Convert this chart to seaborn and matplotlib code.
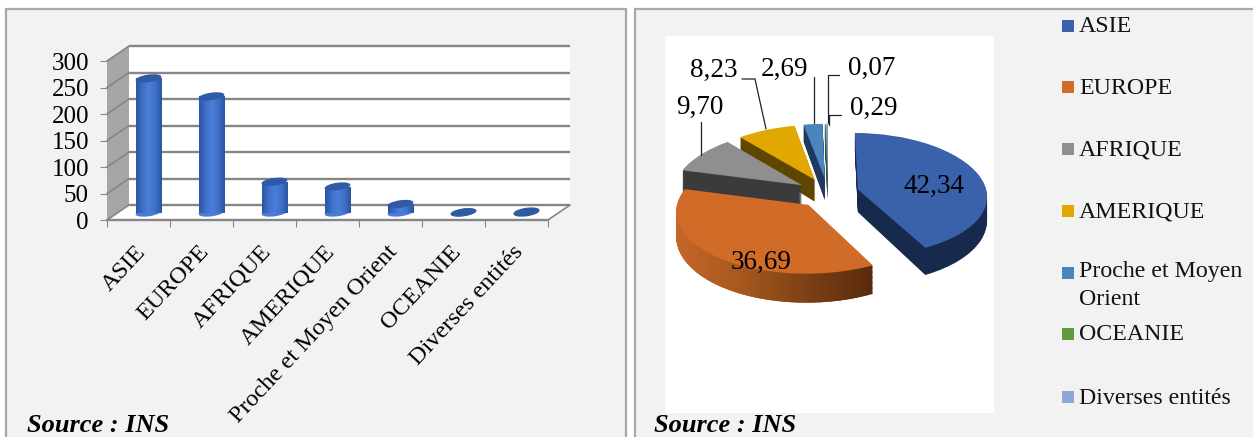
import matplotlib
matplotlib.use("Agg")
import numpy as np
import matplotlib.pyplot as plt
import seaborn as sns
from matplotlib.patches import Ellipse, Rectangle, Polygon, PathPatch
from matplotlib.path import Path
from matplotlib.transforms import Affine2D, ScaledTranslation
from matplotlib.colors import LinearSegmentedColormap

categories = ["ASIE", "EUROPE", "AFRIQUE", "AMERIQUE", "Proche et Moyen Orient", "OCEANIE", "Diverses entités"]
counts = [253, 219, 58, 49, 16, 0.4, 1.7]
shares = [42.34, 36.69, 9.70, 8.23, 2.69, 0.07, 0.29]
share_labels = ["42,34", "36,69", "9,70", "8,23", "2,69", "0,07", "0,29"]
legend_labels = ["ASIE", "EUROPE", "AFRIQUE", "AMERIQUE", "Proche et Moyen\nOrient", "OCEANIE", "Diverses entités"]
y_ticks = [0, 50, 100, 150, 200, 250, 300]
pie_colors = ["#3a62ab", "#d06b28", "#8f8f8f", "#e0a800", "#4a86bd", "#5f9a3f", "#8fa6d8"]
side_colors = ["#17294d", "#8a4a1c", "#3b3b3b", "#5f4600", "#1f3a5c", "#2f4d20", "#4a5a80"]
source_text = "Source : INS"

sns.set_theme(style="white")
plt.rcParams["font.family"] = ["Liberation Serif", "DejaVu Serif"]

W, H = 1253, 437
fig = plt.figure(figsize=(W / 100, H / 100), dpi=100, facecolor="white")


def pixel_axes(zorder):
    a = fig.add_axes([0, 0, 1, 1], zorder=zorder)
    a.set_xlim(0, W)
    a.set_ylim(H, 0)
    a.axis("off")
    a.patch.set_alpha(0)
    return a


def box(x0, y0, x1, y1):
    return [x0 / W, 1 - y1 / H, (x1 - x0) / W, (y1 - y0) / H]


bg = pixel_axes(0)
fg = pixel_axes(5)
panel_edge = "#a8a8a8"
for x0, x1 in [(6, 626), (635, 1262)]:
    bg.add_patch(Rectangle((x0, 9), x1 - x0, 440, facecolor="#f2f2f2", edgecolor=panel_edge, lw=1.6))
bg.add_patch(Rectangle((665, 36), 329, 377, facecolor="white", edgecolor="none"))

# ---------- left: pseudo-3D cylinder bars ----------
ax = fig.add_axes(box(107, 61, 548, 220), zorder=2)
ax.patch.set_alpha(0)
sns.barplot(x=categories, y=counts, ax=ax, width=0.41, color="#3f70c8", saturation=1)
ax.set_xlim(-0.5, 6.5)
ax.set_ylim(0, 300)
sns.despine(ax=ax, left=True, bottom=True, top=True, right=True)

back = ax.transData + Affine2D().translate(22, 15)
mid = ax.transData + Affine2D().translate(10, 7.5)
wall_grey = "#858585"

ax.add_patch(Rectangle((-0.5, 0), 7, 300, transform=back, facecolor="white", edgecolor="none", clip_on=False, zorder=0))
px = lambda x, y, t: t.transform((x, y))
identity = Affine2D()
ax.add_patch(Polygon([px(-0.5, 0, ax.transData), px(-0.5, 300, ax.transData), px(-0.5, 300, back), px(-0.5, 0, back)],
                     closed=True, transform=identity, facecolor="#a6a6a6", edgecolor="none", clip_on=False, zorder=0.1))
ax.add_patch(Polygon([px(-0.5, 0, ax.transData), px(-0.5, 0, back), px(6.5, 0, back), px(6.5, 0, ax.transData)],
                     closed=True, transform=identity, facecolor="white", edgecolor="none", clip_on=False, zorder=0.1))
for t in y_ticks:
    ax.plot([-0.5, 6.5], [t, t], transform=back, color=wall_grey, lw=1.7, clip_on=False, zorder=0.2, solid_capstyle="butt")
    a, b = px(-0.5, t, ax.transData), px(-0.5, t, back)
    ax.plot([a[0], b[0]], [a[1], b[1]], transform=identity, color=wall_grey, lw=1.2, clip_on=False, zorder=0.2)
a, b = px(6.5, 0, ax.transData), px(6.5, 0, back)
ax.plot([a[0], b[0]], [a[1], b[1]], transform=identity, color=wall_grey, lw=1.2, clip_on=False, zorder=0.2)
ax.plot([-0.5, 6.5], [0, 0], color=wall_grey, lw=1.7, clip_on=False, zorder=0.2)

cyl = LinearSegmentedColormap.from_list("cyl", ["#2a55a3", "#3f70c8", "#4a7fd8", "#3f70c8", "#2a55a3"])
grad = np.linspace(0, 1, 64).reshape(1, -1)
for bar in list(ax.patches):
    if not isinstance(bar, Rectangle) or bar.get_zorder() < 0.5:
        continue
    x0, w, v = bar.get_x(), bar.get_width(), bar.get_height()
    bar.set_visible(False)
    cx = x0 + w / 2

    def ell(val, color, z):
        tr = Affine2D().scale(13, 3.8).rotate_deg(8) + ScaledTranslation(cx, val, mid)
        ax.add_patch(Ellipse((0, 0), 2, 2, transform=tr, facecolor=color, edgecolor="none", clip_on=False, zorder=z))

    ell(0, "#4a7cd6" if v > 5 else "#2f5aa6", 2)
    if v > 5:
        im = ax.imshow(grad, extent=[x0, x0 + w, 0, v], aspect="auto", cmap=cyl, transform=mid, zorder=2.1)
        im.set_clip_on(False)
    ell(v, "#2f5aa6", 2.2)

ax.set_xlim(-0.5, 6.5)
ax.set_ylim(0, 300)
ax.set_yticks(y_ticks)
ax.set_yticklabels([str(t) for t in y_ticks], fontsize=18, color="black")
ax.tick_params(axis="y", left=True, length=5, width=0.8, color="#888888", pad=8)
ax.set_xticks(range(len(categories)))
ax.set_xticklabels(categories, rotation=47, ha="right", rotation_mode="anchor", fontsize=17.5, color="black")
ax.tick_params(axis="x", which="major", bottom=False, pad=10)
for lab in ax.get_xticklabels():
    lab.set_transform(lab.get_transform() + Affine2D().translate(-4, 1))
ax.set_xticks(np.arange(-0.5, 7, 1), minor=True)
ax.tick_params(axis="x", which="minor", bottom=True, length=5, width=0.8, color="#888888")
ax.set_xlabel("")
ax.set_ylabel("")

# ---------- right: pseudo-3D exploded pie ----------
pax = fig.add_axes(box(665, 36, 994, 413), zorder=3)
RX, RY, CX, CY = 129, 62, 828, 193
explode = [0.24] * len(shares)
depth = 23


def project(path, lift=0.0):
    """Perspective of the tilted pie: the far side shrinks, the near side grows."""
    v = path.vertices
    x, y = v[:, 0], v[:, 1]
    nx = x * (1 - 0.10 * y)
    ny = y - 0.08 * y ** 2 - lift * (1 - 0.22 * y) / RY
    return Path(np.column_stack([nx, ny]), path.codes)


wedges, _ = pax.pie(shares, explode=explode, colors=pie_colors, startangle=90, counterclock=False,
                    wedgeprops={"linewidth": 0})
flat = [w.get_path().transformed(w.get_patch_transform()) for w in wedges]
for w in wedges:
    w.set_visible(False)

europe_paths = []
for k in range(depth, 0, -1):
    for i, p in enumerate(flat):
        q = project(p, k)
        pax.add_patch(PathPatch(q, facecolor=side_colors[i], edgecolor="none", zorder=1))
        if i == 1:
            europe_paths.append(q)
for i, p in enumerate(flat):
    pax.add_patch(PathPatch(project(p), facecolor=pie_colors[i], edgecolor="none", zorder=3))

side_cmap = LinearSegmentedColormap.from_list("eu", ["#c9682a", "#a9591f", "#7d4015", "#55290c"])
gim = pax.imshow(grad, extent=[-1.25, 0.4, -3, 1], aspect="auto", cmap=side_cmap, zorder=2)
gim.set_clip_path(Path.make_compound_path(*europe_paths), pax.transData)
pax.set_aspect("auto")
pax.set_xlim((665 - CX) / RX, (994 - CX) / RX)
pax.set_ylim((CY - 413) / RY, (CY - 36) / RY)

lab_pos = [(934, 186), (761, 262), (699.5, 107), (714, 70), (785, 69), (872, 68), (874, 108)]
for s, (x, y) in zip(share_labels, lab_pos):
    fg.text(x, y, s, fontsize=19.5, ha="center", va="center", color="black")
leaders = [
    [(701, 122), (701, 155)],
    [(742, 79), (755, 79), (766, 129)],
    [(814, 77), (814, 123)],
    [(838.5, 75), (827.5, 75), (827.5, 123)],
    [(840.5, 115), (828.6, 115), (828.6, 125)],
]
for seg in leaders:
    xs, ys = zip(*seg)
    fg.plot(xs, ys, color="#222222", lw=0.9)

# legend
leg_y = [26, 87, 149, 211, 273, 334, 397]
for lab, col, y in zip(legend_labels, pie_colors, leg_y):
    fg.add_patch(Rectangle((1062, y - 6), 12, 12, facecolor=col, edgecolor="none"))
    multi = "\n" in lab
    fg.text(1079, y - 12 if multi else y + 1, lab, fontsize=17.2, color="#111111",
            va="top" if multi else "center", ha="left", linespacing=1.42)

for x in (27, 654):
    fg.text(x, 436.5, source_text, fontsize=19, fontweight="bold", fontstyle="italic", color="black", va="bottom", ha="left")

fig.savefig("out.png", dpi=100, facecolor="white")
